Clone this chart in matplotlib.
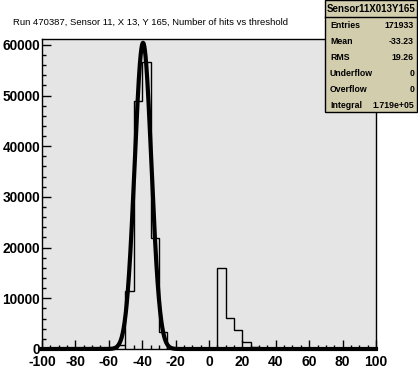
import matplotlib
matplotlib.use("Agg")
import matplotlib.pyplot as plt
import numpy as np
from matplotlib.patches import Rectangle
from matplotlib.ticker import MultipleLocator

plt.rcParams['font.family'] = ['Liberation Sans', 'DejaVu Sans']
plt.rcParams['axes.unicode_minus'] = False

# histogram: 40 bins of width 5 from -100 to 100
bin_edges = np.arange(-100, 105, 5)
counts = [0, 0, 0, 0, 0, 0, 0, 0, 0, 700,
          11500, 49000, 56700, 21800, 3400, 0, 0, 0, 0, 0,
          0, 16000, 6050, 3750, 1300, 300, 0, 0, 0, 0,
          0, 0, 0, 0, 0, 0, 0, 0, 0, 0]

# gaussian fit parameters
fit_const = 60400
fit_mean = -39.5
fit_sigma = 5.0

title = "Run 470387, Sensor 11, X 13, Y 165, Number of hits vs threshold"
stats_name = "Sensor11X013Y165"
stats_labels = ["Entries", "Mean", "RMS", "Underflow", "Overflow", "Integral"]
stats_values = ["171933", "-33.23", "19.26", "0", "0", "1.719e+05"]

W, H = 418, 390
fig = plt.figure(figsize=(W / 100, H / 100), dpi=100)
fig.patch.set_facecolor("white")

def px(x, y):
    return x / W, 1 - y / H

ax = fig.add_axes([42 / W, 1 - 349 / H, 334 / W, 310 / H])
ax.set_facecolor("#e5e5e5")

ax.stairs(counts, bin_edges, color="black", lw=1.0, zorder=2)
xf = np.linspace(-100, 100, 2001)
yf = fit_const * np.exp(-0.5 * ((xf - fit_mean) / fit_sigma) ** 2)
ax.plot(xf, yf, color="black", lw=3, zorder=3, clip_on=False)

ax.set_xlim(-100, 100)
ax.set_ylim(0, 61150)
ax.xaxis.set_major_locator(MultipleLocator(20))
ax.xaxis.set_minor_locator(MultipleLocator(5))
ax.yaxis.set_major_locator(MultipleLocator(10000))
ax.yaxis.set_minor_locator(MultipleLocator(2000))
ax.tick_params(which="both", direction="in", top=False, right=False, width=1, color="black")
ax.tick_params(which="major", length=6.5)
ax.tick_params(which="minor", length=3)
ax.tick_params(axis="x", which="major", pad=4, labelsize=10)
ax.tick_params(axis="y", which="major", pad=1.5, labelsize=9.8)
for lab in ax.get_xticklabels() + ax.get_yticklabels():
    lab.set_fontweight("bold")
for sp in ax.spines.values():
    sp.set_linewidth(1)

fig.text(*px(13, 22), title, fontsize=6.8, ha="left", va="center")

# stats box
bx0, by0, bx1, by1 = 325, 0, 417, 112
fig.patches.append(Rectangle(px(bx0, by1), (bx1 - bx0) / W, (by1 - by0) / H,
                             transform=fig.transFigure, facecolor="#d2cdad",
                             edgecolor="black", lw=1, zorder=5))
fig.add_artist(plt.Line2D([bx0 / W, bx1 / W], [1 - 17 / H, 1 - 17 / H],
                          transform=fig.transFigure, color="black", lw=1, zorder=6))
fig.text(*px((bx0 + bx1) / 2, 9), stats_name, fontsize=7.0, fontweight="bold",
         ha="center", va="center", zorder=7)
for i, (lab, val) in enumerate(zip(stats_labels, stats_values)):
    y = 25 + i * 16
    fig.text(*px(330, y), lab, fontsize=6.3, fontweight="bold", ha="left", va="center", zorder=7)
    fig.text(*px(414, y), val, fontsize=6.3, fontweight="bold", ha="right", va="center", zorder=7)

fig.savefig("out.png", dpi=100)
